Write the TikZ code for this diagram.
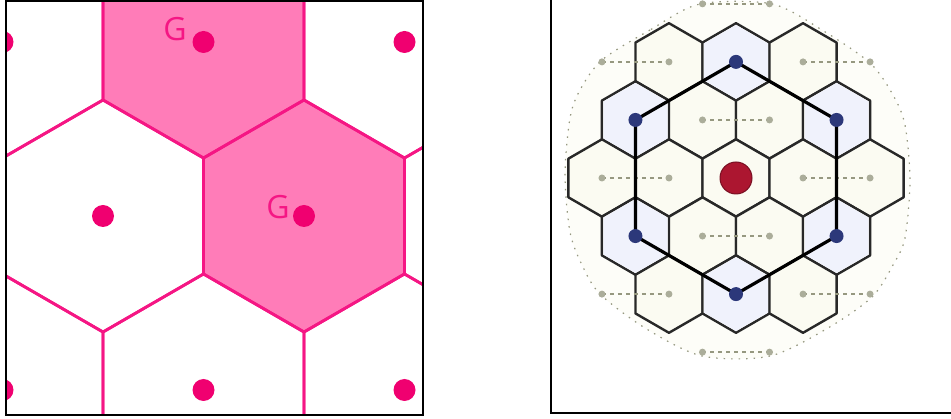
\documentclass[tikz,border=0pt]{standalone}
\usepackage{fontspec}
\newfontfamily\glabelfont{Open Sans}
\usepackage{tikz}
\usetikzlibrary{calc}

\definecolor{pinkline}{RGB}{245,22,132}
\definecolor{pinkfill}{RGB}{255,124,184}
\definecolor{pinkdot}{RGB}{240,0,112}
\definecolor{gridgray}{RGB}{40,40,40}
\definecolor{cellivory}{RGB}{251,251,242}
\definecolor{cellblue}{RGB}{240,242,252}
\definecolor{dashgray}{RGB}{150,152,128}
\definecolor{bluedot}{RGB}{44,56,122}
\definecolor{reddot}{RGB}{172,22,48}

% pointy-top hexagon around the current point
\newcommand{\hexcell}[1]{+(30:#1) -- +(90:#1) -- +(150:#1) -- +(210:#1) -- +(270:#1) -- +(330:#1) -- cycle}

\begin{document}
\begin{tikzpicture}[x=1pt, y=-1pt,
  frameline/.style={line width=2pt, black},
  pinkhex/.style={line width=2.8pt, pinkline},
  gridhex/.style={line width=2.4pt, draw=gridgray, line join=round},
  chanline/.style={line width=3.2pt, black, line join=round},
  farlink/.style={dashgray, line width=1.4pt, dash pattern=on 4pt off 4pt},
  glabel/.style={pinkline, font=\glabelfont\fontsize{32}{32}\selectfont, inner sep=0pt}]
  \useasboundingbox (0,0) rectangle (951,419);

  % Cellules, a gauche
  \begin{scope}
    \clip (6,1) rectangle (423,415);
    \foreach \cx/\cy in {203.5/42, 304/216}
      \fill[pinkfill] (\cx,\cy) \hexcell{116};
    \foreach \k in {-1,0,1} {
      \foreach \j in {-2,...,2} {
        \pgfmathsetmacro\cx{304+201*(\j+0.5*\k)}
        \pgfmathsetmacro\cy{216+174*\k}
        \draw[pinkhex] (\cx,\cy) \hexcell{116};
        \fill[pinkdot] (\cx,\cy) circle (11);
      }
    }
  \end{scope}
  \node[glabel] (gtop) at (175,29) {G};
  \node[glabel] (gmid) at (278,207) {G};
  \draw[frameline] (6,1) rectangle (423,415);

  % Motif de reutilisation, a droite
  \coordinate (cc) at (736,178);
  \filldraw[fill=cellivory!50!white, draw=dashgray, line width=1.2pt, dash pattern=on 1.5pt off 6pt]
    plot[smooth cycle] coordinates {(700,4) (650,30) (602,60) (580,90) (570,118) (565,175)
      (570,232) (582,265) (600,294) (645,328) (702,356) (770,356) (828,328) (872,297)
      (893,265) (905,238) (910,180) (905,125) (893,95) (870,63) (822,30) (772,4)};
  \foreach \r in {-2,...,2} {
    \pgfmathtruncatemacro\qa{max(-2,-2-\r)}
    \pgfmathtruncatemacro\qb{min(2,2-\r)}
    \foreach \q in {\qa,...,\qb} {
      \pgfmathsetmacro\cx{736+67.03*(\q+0.5*\r)}
      \pgfmathsetmacro\cy{178+58.05*\r}
      \filldraw[gridhex, fill=cellivory] (\cx,\cy) \hexcell{38.7};
    }
  }
  \foreach \a [count=\i] in {90,30,-30,-90,-150,150}
    \coordinate (b\i) at ($(cc)+(\a:116.1)$);
  \foreach \i in {1,...,6}
    \fill[cellblue] (b\i) \hexcell{37};

  % liaisons en pointilles
  \foreach \r/\q in {-3/1, -2/-1, -2/2, -1/0, 0/-2, 0/1, 1/-1, 2/-3, 2/0, 3/-2} {
    \pgfmathsetmacro\xa{736+67.03*(\q+0.5*\r)}
    \pgfmathsetmacro\xb{\xa+67.03}
    \pgfmathsetmacro\yy{178+58.05*\r}
    \draw[farlink] (\xa,\yy) -- (\xb,\yy);
    \fill[dashgray!80] (\xa,\yy) circle (3.5) (\xb,\yy) circle (3.5);
  }

  \draw[chanline] (b1) -- (b2) -- (b3) -- (b4) -- (b5) -- (b6) -- cycle;
  \foreach \i in {1,...,6}
    \fill[bluedot] (b\i) circle (7);
  \filldraw[fill=reddot, draw=reddot!70!black, line width=1pt] (cc) circle (16);

  \draw[frameline] (551,0) -- (551,413) -- (951,413);
\end{tikzpicture}
\end{document}
